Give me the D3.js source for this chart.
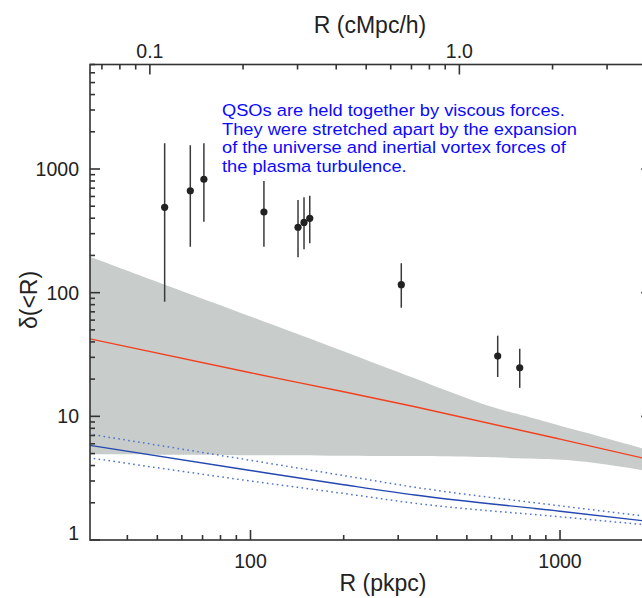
<!DOCTYPE html>
<html>
<head>
<meta charset="utf-8">
<script src="https://cdn.jsdelivr.net/npm/d3@7"></script>
<style>
  html, body { margin: 0; padding: 0; background: #fff; }
  svg { display: block; font-family: "Liberation Sans", Arial, Helvetica, sans-serif; }
</style>
</head>
<body>
<svg id="chart" width="642" height="598"></svg>
<script>
// Quasar-pair overdensity measurements: radius (pkpc), value and error-bar ends
const pairRadius    = [52.8, 63.9, 70.7, 110.5, 142.4, 148.9, 155.4, 307, 629, 741];
const pairDelta     = [490, 667, 826, 449, 338, 370, 399, 116, 30.7, 24.7];
const pairDeltaHigh = [1614, 1555, 1614, 800, 561, 590, 608, 173, 44.9, 35.2];
const pairDeltaLow  = [84.5, 235, 375, 235, 193, 224, 251, 75.5, 20.8, 17.0];

// Shaded model band (upper and lower envelope)
const bandRadius = [30, 50, 100, 200, 340, 565, 740, 860, 1160, 2000];
const bandUpper  = [197, 121.7, 64.3, 33.6, 20.3, 12.35, 10.35, 9.34, 7.6, 5.21];
const bandLower  = [4.93, 4.9, 4.85, 4.81, 4.78, 4.68, 4.58, 4.53, 4.43, 3.55];

// Red best-fit curve
const fitRadius = [30, 100, 200, 340, 1000, 2000];
const fitDelta  = [42.5, 22.5, 15.8, 11.95, 6.55, 4.4];

// Blue curve with its dotted bounds
const blueRadius    = [30, 100, 200, 340, 1000, 2000];
const blueDelta     = [5.85, 3.65, 2.8, 2.31, 1.71, 1.40];
const blueDeltaHigh = [7.2, 4.41, 3.32, 2.67, 1.89, 1.53];
const blueDeltaLow  = [4.63, 3.0, 2.38, 1.98, 1.54, 1.31];

// Axis ticks
const xTickValues   = [100, 1000];
const xTickLabels   = ["100", "1000"];
const topTickValues = [0.1, 1.0];
const topTickLabels = ["0.1", "1.0"];
const yTickValues   = [1, 10, 100, 1000];
const yTickLabels   = ["1", "10", "100", "1000"];
const pkpcPerCmpcH  = 473;

const noteLines = [
  "QSOs are held together by viscous forces.",
  "They were stretched apart by the expansion",
  "of the universe and inertial vortex forces of",
  "the plasma turbulence."
];

const svg = d3.select("#chart");
const L = 90, R = 653.2, T = 64.5, B = 540;
const axisColor = "#333";

const x = d3.scaleLog().domain([30.3, 2000]).range([L, R]);
const xTop = d3.scaleLog().domain([30.3 / pkpcPerCmpcH, 2000 / pkpcPerCmpcH]).range([L, R]);
const y = d3.scaleLog().domain([1, 7000]).range([B, T]);

svg.append("defs").append("clipPath").attr("id", "plotClip")
  .append("rect").attr("x", L).attr("y", T).attr("width", R - L).attr("height", B - T);

const plot = svg.append("g").attr("clip-path", "url(#plotClip)");

// Shaded band
const band = bandRadius.map((r, i) => ({ r, hi: bandUpper[i], lo: bandLower[i] }));
plot.append("path")
  .datum(band)
  .attr("fill", "#c8cdcb")
  .attr("d", d3.area().x(d => x(d.r)).y0(d => y(d.lo)).y1(d => y(d.hi)).curve(d3.curveBasis));

const line = d3.line().x(d => x(d[0])).y(d => y(d[1])).curve(d3.curveMonotoneX);

// Red fit
plot.append("path")
  .datum(fitRadius.map((r, i) => [r, fitDelta[i]]))
  .attr("fill", "none").attr("stroke", "#f2401f").attr("stroke-width", 1.4)
  .attr("d", line);

// Blue curve and dotted bounds
[blueDeltaHigh, blueDeltaLow].forEach(vals => {
  plot.append("path")
    .datum(blueRadius.map((r, i) => [r, vals[i]]))
    .attr("fill", "none").attr("stroke", "#4f73cf").attr("stroke-width", 1.5)
    .attr("stroke-dasharray", "1.6,3.4")
    .attr("d", line);
});
plot.append("path")
  .datum(blueRadius.map((r, i) => [r, blueDelta[i]]))
  .attr("fill", "none").attr("stroke", "#2447b0").attr("stroke-width", 1.4)
  .attr("d", line);

// Measurements with error bars
const pts = pairRadius.map((r, i) => ({ r, v: pairDelta[i], hi: pairDeltaHigh[i], lo: pairDeltaLow[i] }));
plot.selectAll("line.err").data(pts).enter().append("line")
  .attr("class", "err")
  .attr("x1", d => x(d.r)).attr("x2", d => x(d.r))
  .attr("y1", d => y(d.hi)).attr("y2", d => y(d.lo))
  .attr("stroke", "#3a3a3a").attr("stroke-width", 1.5);
plot.selectAll("circle.pt").data(pts).enter().append("circle")
  .attr("class", "pt")
  .attr("cx", d => x(d.r)).attr("cy", d => y(d.v)).attr("r", 3.6)
  .attr("fill", "#222");

// Axes frame
const axes = svg.append("g").attr("stroke", axisColor).attr("stroke-width", 1.6).attr("fill", "none");
axes.append("rect").attr("x", L).attr("y", T).attr("width", R - L).attr("height", B - T);

const majorLen = 10, minorLen = 5;
const isMajor = (v, list) => list.some(m => Math.abs(Math.log10(v) - Math.log10(m)) < 1e-6);

// Bottom and top (pkpc / cMpc/h) ticks
x.ticks().forEach(v => {
  const len = isMajor(v, xTickValues) ? majorLen : minorLen;
  axes.append("line").attr("x1", x(v)).attr("x2", x(v)).attr("y1", B).attr("y2", B - len);
});
xTop.ticks().forEach(v => {
  const len = isMajor(v, topTickValues) ? majorLen : minorLen;
  axes.append("line").attr("x1", xTop(v)).attr("x2", xTop(v)).attr("y1", T).attr("y2", T + len);
});
// Left and right ticks
y.ticks().forEach(v => {
  const len = isMajor(v, yTickValues) ? majorLen : minorLen;
  axes.append("line").attr("x1", L).attr("x2", L + len).attr("y1", y(v)).attr("y2", y(v));
  axes.append("line").attr("x1", R).attr("x2", R - len - 2).attr("y1", y(v)).attr("y2", y(v));
});

// Tick labels
const labels = svg.append("g").attr("fill", "#222").style("font-size", "19.5px");
xTickValues.forEach((v, i) => {
  labels.append("text").attr("x", x(v)).attr("y", 568).attr("text-anchor", "middle").text(xTickLabels[i]);
});
topTickValues.forEach((v, i) => {
  labels.append("text").attr("x", xTop(v)).attr("y", 57.5).attr("text-anchor", "middle").text(topTickLabels[i]);
});
yTickValues.forEach((v, i) => {
  const yy = i === 0 ? B : y(v) + 7;
  labels.append("text").attr("x", 79).attr("y", yy).attr("text-anchor", "end").text(yTickLabels[i]);
});

// Axis titles
const titles = svg.append("g").attr("fill", "#222").style("font-size", "23px");
titles.append("text").attr("x", 383).attr("y", 591).attr("text-anchor", "middle").text("R (pkpc)");
titles.append("text").attr("x", 370).attr("y", 33).attr("text-anchor", "middle").text("R (cMpc/h)");
titles.append("text").attr("transform", "translate(37,300) rotate(-90)")
  .attr("text-anchor", "middle").text("δ(<R)");

// Annotation, widened slightly so the four lines keep their tight leading
const note = svg.append("g").attr("transform", "translate(222,0) scale(1.1,1)")
  .append("text").attr("fill", "#0a0aff").style("font-size", "16.6px");
noteLines.forEach((t, i) => {
  note.append("tspan").attr("x", 0).attr("y", 116.5 + i * 18.4).text(t);
});
</script>
</body>
</html>
